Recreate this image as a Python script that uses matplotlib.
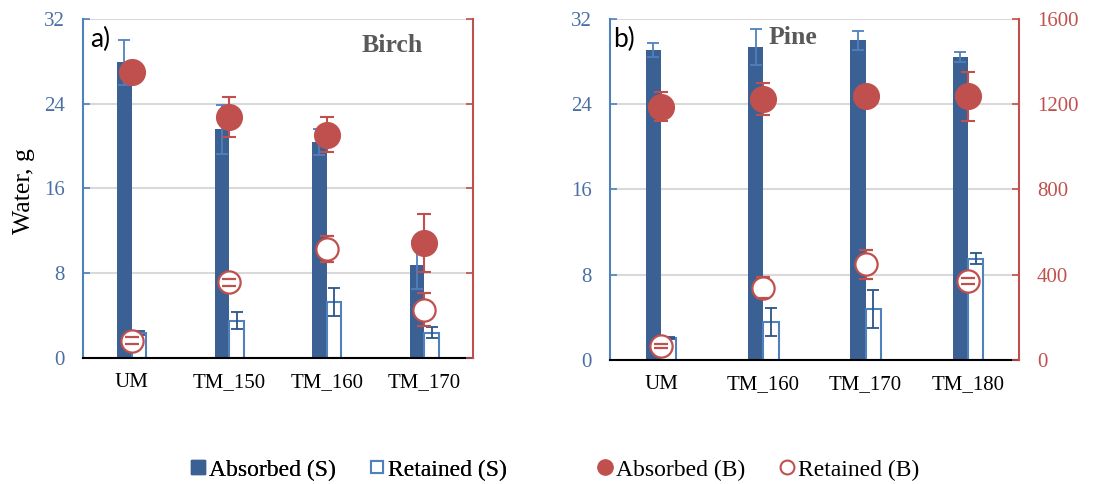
import numpy as np
import matplotlib.pyplot as plt
from matplotlib.lines import Line2D

plt.rcParams['font.family'] = ['Liberation Serif', 'DejaVu Serif']

# birch panel (a)
birch_cats = ["UM", "TM_150", "TM_160", "TM_170"]
birch_abs_s = [27.9, 21.6, 20.4, 8.75]
birch_abs_s_err = [2.1, 2.3, 1.2, 2.25]
birch_ret_s = [2.35, 3.5, 5.3, 2.4]
birch_ret_s_err = [0.2, 0.8, 1.35, 0.5]
birch_abs_b = [1351, 1137, 1054, 544]
birch_abs_b_err = [15, 95, 83, 137]
birch_ret_b = [82, 357, 513, 227]
birch_ret_b_err = [16, 18, 62, 78]

# pine panel (b)
pine_cats = ["UM", "TM_160", "TM_170", "TM_180"]
pine_abs_s = [29.05, 29.3, 29.95, 28.4]
pine_abs_s_err = [0.7, 1.7, 0.9, 0.5]
pine_ret_s = [2.1, 3.56, 4.8, 9.5]
pine_ret_s_err = [0.1, 1.3, 1.8, 0.5]
pine_abs_b = [1187, 1223, 1235, 1235]
pine_abs_b_err = [69, 75, 15, 115]
pine_ret_b = [66, 339, 448, 369]
pine_ret_b_err = [10, 50, 68, 15]

bar_blue = "#3A6094"
light_blue = "#4F81BD"
err_blue = "#2C5588"
red = "#C0504D"
grey = "#D9D9D9"

W, H = 1117, 484


def panel(rect, cats, abs_s, abs_s_err, ret_s, ret_s_err,
          abs_b, abs_b_err, ret_b, ret_b_err, right_labels):
    ax = fig.add_axes(rect)
    x = np.arange(len(cats))
    w = 0.15

    # bars (left axis)
    ax.bar(x - w / 2, abs_s, w, color=bar_blue, zorder=2)
    ax.errorbar(x - w / 2, abs_s, yerr=abs_s_err, fmt="none", ecolor=light_blue,
                elinewidth=1.3, capsize=4, capthick=1.3, zorder=3)
    ax.bar(x + w / 2, ret_s, w, facecolor="white", edgecolor=light_blue,
           linewidth=1.5, zorder=2)
    ax.errorbar(x + w / 2, ret_s, yerr=ret_s_err, fmt="none", ecolor=err_blue,
                elinewidth=1.3, capsize=4, capthick=1.3, zorder=3)

    ax.set_xlim(-0.5, len(cats) - 0.5)
    ax.set_ylim(0, 32)
    ax.set_yticks([0, 8, 16, 24, 32])
    ax.set_xticks(x)
    ax.set_xticklabels(cats)
    ax.yaxis.grid(True, color=grey, linewidth=1.5)
    ax.set_axisbelow(True)
    ax.tick_params(axis="y", direction="in", length=5, width=1.2, color=light_blue,
                   labelcolor="#4A6FA5", labelsize=15, pad=13)
    ax.tick_params(axis="x", length=0, labelsize=15, pad=11)
    ax.spines["top"].set_visible(False)
    ax.spines["right"].set_visible(False)
    ax.spines["left"].set_color(light_blue)
    ax.spines["left"].set_linewidth(1.5)
    ax.spines["bottom"].set_color("black")
    ax.spines["bottom"].set_linewidth(1.5)
    ax.spines["bottom"].set_zorder(5)

    # markers (right axis)
    ax2 = ax.twinx()
    ax2.errorbar(x, abs_b, yerr=abs_b_err, fmt="o", color=red, ms=18.5,
                 ecolor=red, elinewidth=1.5, capsize=5, capthick=1.5)
    eb = ax2.errorbar(x, ret_b, yerr=ret_b_err, fmt="o", mfc="white", mec=red, mew=1.6,
                      ms=16, ecolor=red, elinewidth=1.5, capsize=5, capthick=1.5)
    # caps stay visible on top of the open circles
    for cap in eb[1]:
        cap.set_zorder(4)
    ax2.set_ylim(0, 1600)
    ax2.set_yticks([0, 400, 800, 1200, 1600])
    ax2.tick_params(axis="y", direction="in", length=5, width=1.2, color=red,
                    labelcolor=red, labelsize=15, pad=13, labelright=right_labels)
    for s in ["top", "left", "bottom"]:
        ax2.spines[s].set_visible(False)
    ax2.spines["right"].set_color(red)
    ax2.spines["right"].set_linewidth(1.5)
    return ax, ax2


fig = plt.figure(figsize=(W / 100, H / 100), dpi=100)

panel([83 / W, 1 - 358 / H, 390 / W, 339 / H], birch_cats,
      birch_abs_s, birch_abs_s_err, birch_ret_s, birch_ret_s_err,
      birch_abs_b, birch_abs_b_err, birch_ret_b, birch_ret_b_err, False)
panel([610 / W, 1 - 360 / H, 409 / W, 341.5 / H], pine_cats,
      pine_abs_s, pine_abs_s_err, pine_ret_s, pine_ret_s_err,
      pine_abs_b, pine_abs_b_err, pine_ret_b, pine_ret_b_err, True)

# labels
fig.text(24 / W, 1 - 191 / H, "Water, g", rotation=90, fontsize=18.5,
         ha="center", va="center")
fig.text(90 / W, 1 - 39 / H, "a)", fontsize=19, family="Lato", ha="left", va="center")
fig.text(613 / W, 1 - 39 / H, "b)", fontsize=19, family="Lato", ha="left", va="center")
fig.text(392 / W, 1 - 45 / H, "Birch", fontsize=18.5, weight="bold", color="#595959",
         ha="center", va="center")
fig.text(793 / W, 1 - 38 / H, "Pine", fontsize=18.5, weight="bold", color="#595959",
         ha="center", va="center")

# legends
h_s = [Line2D([], [], ls="none", marker="s", ms=9.5, color=bar_blue),
       Line2D([], [], ls="none", marker="s", ms=9, mfc="white", mec=light_blue, mew=1.5)]
h_b = [Line2D([], [], ls="none", marker="o", ms=11, color=red),
       Line2D([], [], ls="none", marker="o", ms=10, mfc="white", mec=red, mew=1.5)]
leg_kw = dict(loc="center left", ncol=2, frameon=False, fontsize=17, borderpad=0,
              borderaxespad=0, handlelength=0.6, handletextpad=0.17, columnspacing=1.45)
leg1 = fig.legend(h_s, ["Absorbed (S)", "Retained (S)"],
                  bbox_to_anchor=(191 / W, 1 - 470 / H), **leg_kw)
fig.legend(h_b, ["Absorbed (B)", "Retained (B)"],
           bbox_to_anchor=(598 / W, 1 - 470 / H), **leg_kw)
fig.add_artist(leg1)

fig.savefig("out.png", dpi=100)
